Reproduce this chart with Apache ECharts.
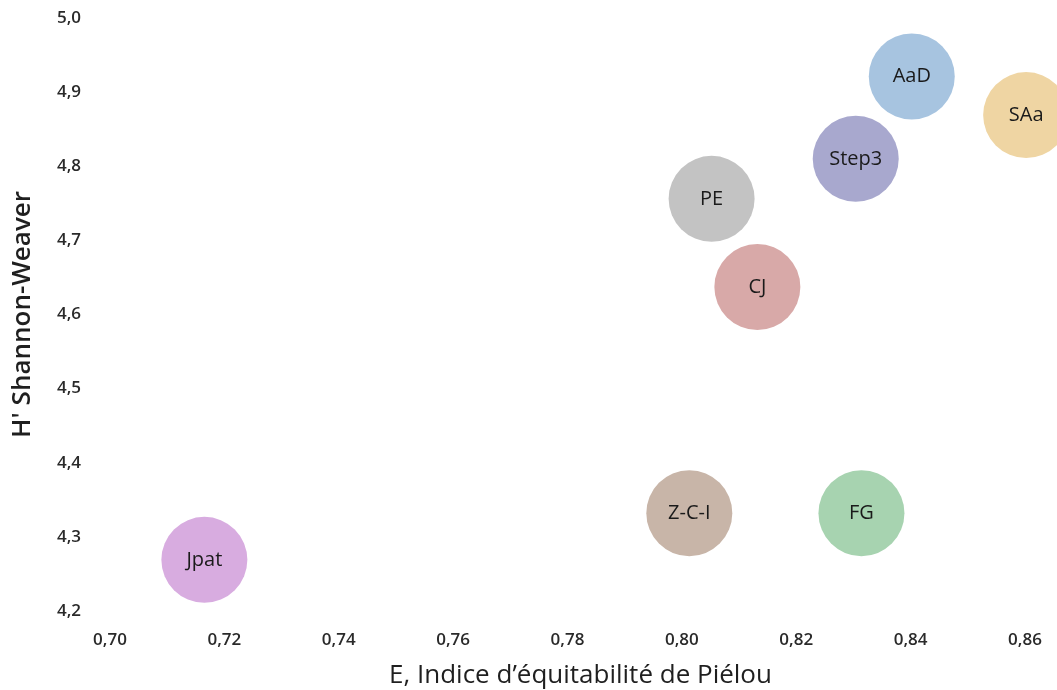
<!DOCTYPE html>
<html>
<head>
<meta charset="utf-8">
<script src="https://cdn.jsdelivr.net/npm/echarts@6/dist/echarts.min.js"></script>
<style>
html,body{margin:0;padding:0;background:#fff;}
#chart{width:1057px;height:690px;}
</style>
</head>
<body>
<div id="chart"></div>
<script>
const names = ["Jpat", "Z-C-I", "FG", "CJ", "PE", "Step3", "AaD", "SAa"];
const evenness = [0.7165, 0.8013, 0.8314, 0.8132, 0.8052, 0.8304, 0.8402, 0.8602];
const shannon = [4.269, 4.332, 4.332, 4.637, 4.756, 4.810, 4.921, 4.869];
const colors = ["#D8ACE0", "#C8B5A8", "#A7D3B0", "#D8A9A8", "#C3C3C3", "#A8A8CE", "#A7C4E0", "#EFD5A3"];

const chart = echarts.init(document.getElementById('chart'));
const data = names.map((n, i) => ({
  name: n,
  value: [evenness[i], shannon[i]],
  itemStyle: { color: colors[i], opacity: 1 }
}));
const FONT = "'Open Sans', 'Noto Sans', sans-serif";
chart.setOption({
  animation: false,
  grid: { left: 110, right: 32, top: 18, bottom: 79, outerBoundsMode: 'none', containLabel: false },
  xAxis: {
    type: 'value', min: 0.70, max: 0.86, interval: 0.02,
    name: 'E, Indice d\u2019équitabilité de Piélou',
    nameLocation: 'middle', nameGap: 52,
    nameTextStyle: { fontFamily: FONT, fontSize: 26, color: '#1f1f1f', padding: [0, 0, 0, 26] },
    axisLine: { show: false }, axisTick: { show: false }, splitLine: { show: false },
    axisLabel: { margin: 21, fontFamily: FONT, fontSize: 17, fontWeight: 600, color: '#2a2a2a',
      formatter: v => v.toFixed(2).replace('.', ',') }
  },
  yAxis: {
    type: 'value', min: 4.2, max: 5.0, interval: 0.1,
    name: 'H\' Shannon-Weaver',
    nameLocation: 'middle', nameGap: 74,
    nameTextStyle: { fontFamily: FONT, fontSize: 26, fontWeight: 600, color: '#1f1f1f' },
    axisLine: { show: false }, axisTick: { show: false }, splitLine: { show: false },
    axisLabel: { margin: 29, fontFamily: FONT, fontSize: 17, fontWeight: 600, color: '#2a2a2a',
      formatter: v => v.toFixed(1).replace('.', ',') }
  },
  series: [{
    type: 'scatter',
    clip: false,
    symbolSize: 86,
    data: data,
    itemStyle: { opacity: 1 },
    label: { show: true, position: 'inside', formatter: '{b}',
      fontFamily: FONT, fontSize: 20, color: '#1a1a1a' },
    emphasis: { disabled: true }
  }]
});
</script>
</body>
</html>
